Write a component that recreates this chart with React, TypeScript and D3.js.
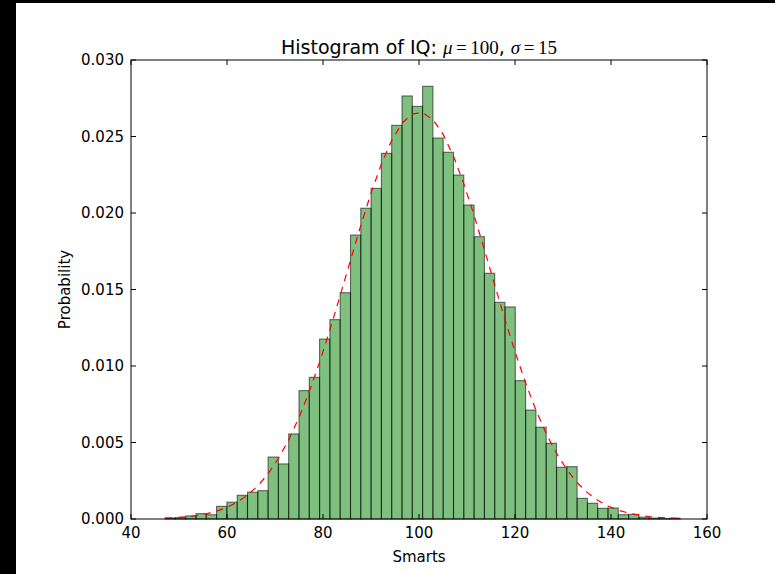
import React from 'react';
import * as d3 from 'd3';

// histogram bin edges (51)
const binEdges = [
  47.10, 49.25, 51.39, 53.54, 55.68, 57.83, 59.98, 62.12, 64.27, 66.41,
  68.56, 70.71, 72.85, 75.00, 77.14, 79.29, 81.44, 83.58, 85.73, 87.87,
  90.02, 92.17, 94.31, 96.46, 98.60, 100.75, 102.90, 105.04, 107.19, 109.33,
  111.48, 113.63, 115.77, 117.92, 120.06, 122.21, 124.36, 126.50, 128.65, 130.79,
  132.94, 135.09, 137.23, 139.38, 141.52, 143.67, 145.82, 147.96, 150.11, 152.25,
  154.40,
];

// bar heights (probability density) for the 50 bins
const binValues = [
  0.00007, 0.00009, 0.0002, 0.00035, 0.00028, 0.00083, 0.0011, 0.00155, 0.00175, 0.00185,
  0.00405, 0.0036, 0.00556, 0.00839, 0.00926, 0.01176, 0.01303, 0.01479, 0.01856, 0.02031,
  0.02161, 0.0239, 0.02573, 0.02765, 0.02697, 0.02828, 0.0249, 0.02397, 0.02248, 0.02052,
  0.01845, 0.01606, 0.01416, 0.01386, 0.00904, 0.00712, 0.006, 0.00495, 0.00338, 0.00342,
  0.00135, 0.00103, 0.0007, 0.00072, 0.00028, 0.0003, 0.00012, 0.00006, 0.00003, 0.00005,
];

// dashed "best fit" line, one value per bin edge
const fitValues = [
  0.000053, 0.000087, 0.000140, 0.000220, 0.000338, 0.000511, 0.000757, 0.001096, 0.001559, 0.002166,
  0.002955, 0.003952, 0.005171, 0.006633, 0.008330, 0.010255, 0.012364, 0.014612, 0.016918, 0.019179,
  0.021317, 0.023210, 0.024750, 0.025865, 0.026481, 0.026563, 0.026103, 0.025136, 0.023710, 0.021918,
  0.019843, 0.017601, 0.015306, 0.013029, 0.010878, 0.008888, 0.007117, 0.005585, 0.004293, 0.003234,
  0.002386, 0.001724, 0.001221, 0.000848, 0.000577, 0.000384, 0.000250, 0.000160, 0.000100, 0.000062,
  0.000037,
];

const xTicks = [40, 60, 80, 100, 120, 140, 160];
const yTicks = [0, 0.005, 0.01, 0.015, 0.02, 0.025, 0.03];

const W = 775;
const H = 574;
const left = 131, right = 707, top = 60, bottom = 519;
const sans = 'DejaVu Sans, sans-serif';
const serif = 'Liberation Serif, DejaVu Serif, serif';

const App = () => {
  const x = d3.scaleLinear().domain([40, 160]).range([left, right]);
  const y = d3.scaleLinear().domain([0, 0.03]).range([bottom, top]);

  const fitLine = d3.line<number>()
    .x((_, i) => x(binEdges[i]))
    .y(d => y(d))(fitValues);

  const tick = 5;

  return (
    <svg width={W} height={H} style={{ position: 'absolute', left: 0, top: 0 }}>
      <rect x={0} y={0} width={W} height={H} fill="#000" />
      <rect x={16} y={3} width={W - 16} height={H - 3} fill="#fff" />

      <g>
        {binValues.map((v, i) => (
          <rect
            key={i}
            x={x(binEdges[i])}
            y={y(v)}
            width={x(binEdges[i + 1]) - x(binEdges[i])}
            height={bottom - y(v)}
            fill="green"
            fillOpacity={0.5}
            stroke="#000"
            strokeOpacity={0.55}
            strokeWidth={1.1}
          />
        ))}
      </g>

      <path d={fitLine ?? ''} fill="none" stroke="red" strokeWidth={1.2} strokeDasharray="7,6" />

      <rect x={left} y={top} width={right - left} height={bottom - top} fill="none" stroke="#000" strokeWidth={1} />

      {xTicks.map(t => (
        <g key={'x' + t}>
          <line x1={x(t)} x2={x(t)} y1={bottom} y2={bottom - tick} stroke="#000" />
          <line x1={x(t)} x2={x(t)} y1={top} y2={top + tick} stroke="#000" />
          <text x={x(t)} y={538} textAnchor="middle" fontFamily={sans} fontSize={15}>{t}</text>
        </g>
      ))}

      {yTicks.map(t => (
        <g key={'y' + t}>
          <line x1={left} x2={left + tick} y1={y(t)} y2={y(t)} stroke="#000" />
          <line x1={right} x2={right - tick} y1={y(t)} y2={y(t)} stroke="#000" />
          <text x={124} y={y(t)} dy="0.36em" textAnchor="end" fontFamily={sans} fontSize={15}>
            {d3.format('.3f')(t)}
          </text>
        </g>
      ))}

      <text x={(left + right) / 2} y={562} textAnchor="middle" fontFamily={sans} fontSize={15}>Smarts</text>
      <text
        transform={`translate(70, ${(top + bottom) / 2}) rotate(-90)`}
        textAnchor="middle"
        fontFamily={sans}
        fontSize={15}
      >
        Probability
      </text>

      <text x={(left + right) / 2} y={54} textAnchor="middle" fontFamily={sans} fontSize={19}>
        Histogram of IQ:{' '}
        <tspan fontFamily={serif} fontStyle="italic">μ</tspan>
        <tspan fontFamily={serif} dx={3.5}>=</tspan>
        <tspan fontFamily={serif} dx={3.5}>100</tspan>
        <tspan>, </tspan>
        <tspan fontFamily={serif} fontStyle="italic">σ</tspan>
        <tspan fontFamily={serif} dx={3.5}>=</tspan>
        <tspan fontFamily={serif} dx={3.5}>15</tspan>
      </text>
    </svg>
  );
};

export default App;
